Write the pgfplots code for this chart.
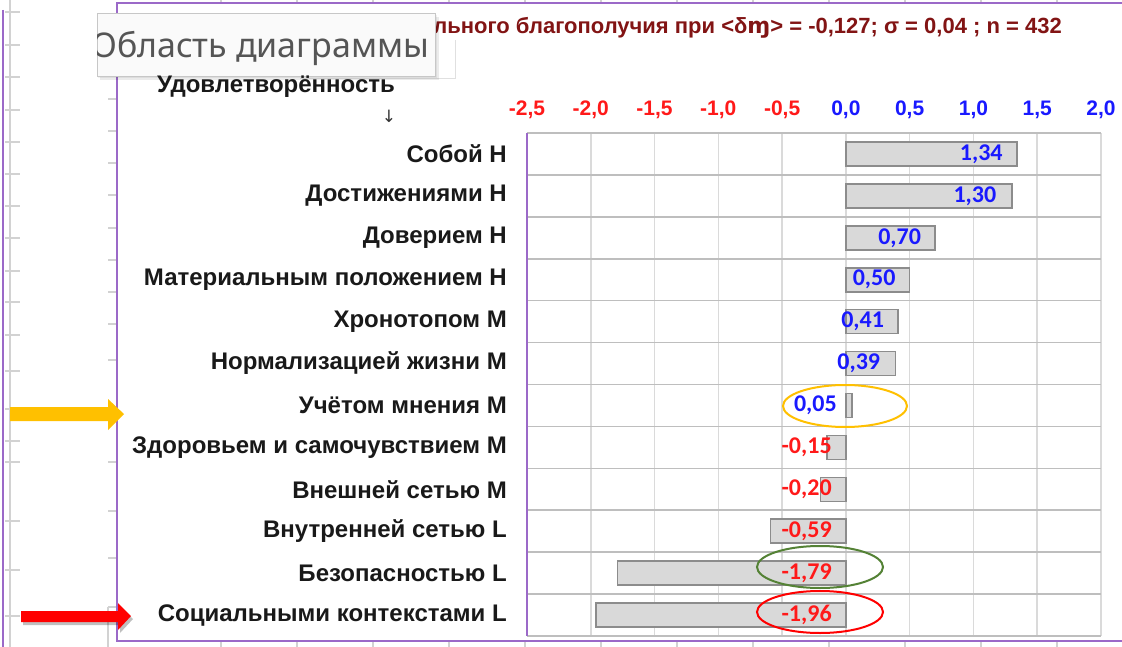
\documentclass[border=0pt]{standalone}
\usepackage{pgfplots}
\pgfplotsset{compat=1.18}
\usepackage{fontspec}
\setmainfont{Liberation Sans}
\newfontfamily\carlito{Carlito}
\newfontfamily\dejavu{DejaVu Sans}
\newfontfamily\tipfont{Noto Sans}
\definecolor{chartpurple}{RGB}{155,105,200}
\definecolor{hgrid}{RGB}{190,190,190}
\definecolor{vgrid}{RGB}{218,218,218}
\definecolor{barfill}{RGB}{217,217,217}
\definecolor{barline}{RGB}{140,140,140}
\definecolor{lblblue}{RGB}{25,25,255}
\definecolor{lblred}{RGB}{255,25,25}
\definecolor{titlered}{RGB}{130,20,20}
\definecolor{arrowyellow}{RGB}{255,192,0}
\definecolor{ellgreen}{RGB}{84,130,53}
\definecolor{sheetgrid}{RGB}{210,210,210}
\definecolor{tipgray}{RGB}{85,85,85}
\begin{document}
\begin{tikzpicture}
\useasboundingbox (0,0) rectangle (1122pt,-647pt);
\begin{scope}
\clip (0,0) rectangle (1122pt,-647pt);
\fill[white] (0,0) rectangle (1122pt,-647pt);
\begin{scope}[x=1pt,y=-1pt]
 % spreadsheet background
 \draw[chartpurple, line width=2pt] (3,10) -- (3,650);
 \draw[sheetgrid, line width=1.5pt] (10,0) -- (10,650);
 \foreach \y in {12,45,77,110,142,174,206,238,271,302,335,371,409,441,462,521,570,616}
   \draw[sheetgrid, line width=1.2pt] (5,\y) -- (20,\y);
 \foreach \y in {99,131,163,195,228,260,292,324,360,462,511,558,607}
   \draw[sheetgrid, line width=1.2pt] (108,\y) -- (117,\y);
 \draw[sheetgrid, line width=1.2pt] (108,607) -- (108,650);
 \foreach \x in {221,297,373,449,525,601,677,753,829,905,981,1057}
   {\draw[sheetgrid, line width=1.2pt] (\x,0) -- (\x,3);
    \draw[sheetgrid, line width=1.2pt] (\x,641) -- (\x,650);}
 % chart area border
 \draw[chartpurple, line width=2pt] (117,3) rectangle (1140,641);
\end{scope}

\begin{axis}[
  at={(527pt,-636pt)}, anchor=south west,
  width=574pt, height=503pt, scale only axis,
  xmin=-2.5, xmax=2, ymin=0.5, ymax=12.5, y dir=reverse,
  clip=false,
  axis line style={draw=none},
  tick style={draw=none},
  major tick length=0pt, minor tick length=0pt,
  xtick={-2.5,-2,-1.5,-1,-0.5,0,0.5,1,1.5,2},
  xticklabels={{\textcolor{lblred}{-2,5}},{\textcolor{lblred}{-2,0}},{\textcolor{lblred}{-1,5}},{\textcolor{lblred}{-1,0}},{\textcolor{lblred}{-0,5}},{\textcolor{lblblue}{0,0}},{\textcolor{lblblue}{0,5}},{\textcolor{lblblue}{1,0}},{\textcolor{lblblue}{1,5}},{\textcolor{lblblue}{2,0}}},
  xticklabel pos=top,
  xticklabel style={anchor=base, inner sep=0pt, yshift=17.5pt, font=\bfseries\fontsize{21}{21}\selectfont},
  xmajorgrids,
  major grid style={vgrid, line width=1.6pt},
  ytick={1,...,12},
  yticklabels={Собой Н, Достижениями Н, Доверием Н, Материальным положением Н, Хронотопом М, Нормализацией жизни М, Учётом мнения М, Здоровьем и самочувствием М, Внешней сетью М, Внутренней сетью L, Безопасностью L, Социальными контекстами L},
  yticklabel style={anchor=east, inner sep=0pt, xshift=-20pt, text=black!90, font=\bfseries\fontsize{24}{24}\selectfont},
  minor ytick={0.5,1.5,...,12.5},
  yminorgrids,
  minor grid style={hgrid, line width=1.6pt},
]
\addplot[xbar, bar width=24pt, fill=barfill, draw=barline, line width=1.6pt]
 coordinates {(1.34,1) (1.30,2) (0.70,3) (0.50,4) (0.41,5) (0.39,6) (0.05,7) (-0.15,8) (-0.20,9) (-0.59,10) (-1.79,11) (-1.96,12)};
\addplot[only marks, mark=none,
  point meta=explicit symbolic, nodes near coords,
  every node near coord/.append style={anchor=east, inner sep=0pt, text=lblblue, font=\carlito\bfseries\fontsize{24}{24}\selectfont}]
 table[meta=lab] {
x y lab
1.23 1 1,34
1.18 2 1,30
0.59 3 0,70
0.39 4 0,50
0.30 5 0,41
0.27 6 0,39
-0.07 7 0,05
};
\addplot[only marks, mark=none,
  point meta=explicit symbolic, nodes near coords,
  every node near coord/.append style={anchor=east, inner sep=0pt, text=lblred, font=\carlito\bfseries\fontsize{24}{24}\selectfont}]
 table[meta=lab] {
x y lab
-0.11 8 -0,15
-0.11 9 -0,20
-0.11 10 -0,59
-0.11 11 -1,79
-0.11 12 -1,96
};
\draw[chartpurple, line width=2pt] (axis cs:-2.5,0.5) -- (axis cs:-2.5,12.5);
\end{axis}

\begin{scope}[x=1pt,y=-1pt]
 % ellipses
 \draw[arrowyellow, line width=2pt] (845,406) ellipse [x radius=62, y radius=21];
 \draw[ellgreen, line width=2pt] (820,567) ellipse [x radius=63, y radius=21];
 \draw[red, line width=2pt] (820,612) ellipse [x radius=63, y radius=21];
 % arrows
 \fill[arrowyellow] (10,407) -- (108,407) -- (108,399) -- (124,414) -- (108,430) -- (108,421) -- (10,421) -- cycle;
 \fill[black, opacity=0.25] (23,614) -- (120,614) -- (120,606) -- (133,619) -- (120,633) -- (120,625) -- (23,625) -- cycle;
 \fill[red] (21,611) -- (118,611) -- (118,603) -- (131,616) -- (118,630) -- (118,622) -- (21,622) -- cycle;
 % header texts
 \node[anchor=center, inner sep=0pt, text=black!80, font=\dejavu\fontsize{17}{17}\selectfont] at (389,116) {↓};
 \node[anchor=base east, inner sep=0pt, text=titlered, font=\bfseries\fontsize{22}{22}\selectfont] at (1062,34) {Индекс социального благополучия при <δ{\dejavu\bfseries ɱ}> = -0,127; σ = 0,04 ; n = 432};
 % tooltip
 \draw[black!12, line width=1pt] (300,79) -- (455,79) -- (455,40);
 \fill[black, opacity=0.08] (100,17) rectangle (439,80);
 \fill[black, opacity=0.06] (98,15) rectangle (437,78);
 \draw[black!22, fill=black!2, line width=1pt] (97,14) rectangle (435,77);
 \begin{scope}
  \clip (97,14) rectangle (435,77);
  \node[anchor=base west, inner sep=0pt, text=tipgray, font=\tipfont\fontsize{34}{34}\selectfont] at (91,58) {Область диаграммы};
 \end{scope}
 \node[anchor=base, inner sep=0pt, text=black!90, font=\bfseries\fontsize{24}{24}\selectfont] at (276,93) {Удовлетворённость};
\end{scope}
\end{scope}
\end{tikzpicture}
\end{document}
